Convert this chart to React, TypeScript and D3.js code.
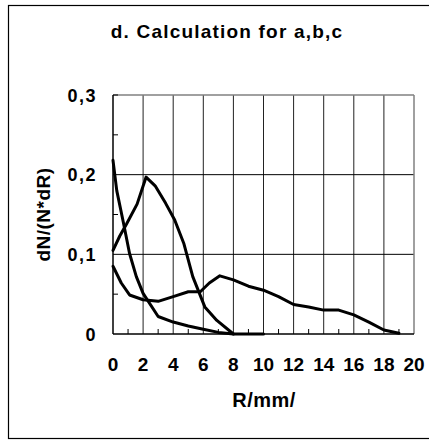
import React from "react";
import * as d3 from "d3";

// Curve a: steep decay
const rA = [0, 0.25, 0.7, 1.1, 1.55, 2, 3, 4, 5, 6, 7, 8, 9, 10];
const vA = [0.218, 0.18, 0.139, 0.101, 0.072, 0.051, 0.022, 0.015, 0.01, 0.006, 0.002, 0, 0, 0];
// Curve b: peak near R=2
const rB = [0, 0.45, 0.9, 1.6, 2.2, 2.8, 3.5, 4.1, 4.7, 5.3, 6.1, 6.9, 8];
const vB = [0.105, 0.123, 0.138, 0.163, 0.197, 0.186, 0.164, 0.143, 0.114, 0.072, 0.034, 0.017, 0];
// Curve c: broad distribution
const rC = [0, 0.55, 1.1, 2, 3, 4, 5, 5.8, 6.4, 7.1, 8, 9, 10, 11, 12, 13, 14, 15, 16, 17, 18, 19];
const vC = [0.085, 0.064, 0.049, 0.043, 0.041, 0.047, 0.053, 0.053, 0.064, 0.073, 0.068, 0.06, 0.055, 0.047, 0.037, 0.034, 0.03, 0.03, 0.024, 0.015, 0.005, 0.001];

const xTicks = [0, 2, 4, 6, 8, 10, 12, 14, 16, 18, 20];
const xMinor = [1, 3, 5, 7, 9, 11, 13, 15, 17, 19];
const yTicks = [0, 0.1, 0.2, 0.3];
const yTickLabels = ["0", "0,1", "0,2", "0,3"];
const yMinor = [0.05, 0.15, 0.25];

const title = "d. Calculation for a,b,c";
const xTitle = "R/mm/";
const yTitle = "dN/(N*dR)";

export default function App() {
  const L = 113, R = 414, T = 95, B = 334;
  const x = d3.scaleLinear().domain([0, 20]).range([L, R]);
  const y = d3.scaleLinear().domain([0, 0.3]).range([B, T]);
  const line = d3
    .line<[number, number]>()
    .x((d) => x(d[0]))
    .y((d) => y(d[1]))
    .curve(d3.curveLinear);
  const series = [
    rA.map((r, i) => [r, vA[i]] as [number, number]),
    rB.map((r, i) => [r, vB[i]] as [number, number]),
    rC.map((r, i) => [r, vC[i]] as [number, number]),
  ];
  const font = "Arial, 'Liberation Sans', sans-serif";
  return (
    <svg
      width={429}
      height={440}
      style={{ position: "absolute", left: 0, top: 0, background: "#fff" }}
      fontFamily={font}
    >
      <rect x={0} y={0} width={429} height={440} fill="#fff" />
      <rect x={8.5} y={5.5} width={460} height={433} fill="none" stroke="#000" strokeWidth={1.2} />
      <text x={227} y={38} textAnchor="middle" fontSize={19} fontWeight="bold" letterSpacing={1.2}>
        {title}
      </text>
      {/* grid */}
      {xTicks.slice(1, -1).map((t) => (
        <line key={"gx" + t} x1={x(t)} x2={x(t)} y1={T} y2={B} stroke="#222" strokeWidth={1} />
      ))}
      {yTicks.slice(1, -1).map((t) => (
        <line key={"gy" + t} x1={L} x2={R} y1={y(t)} y2={y(t)} stroke="#000" strokeWidth={1} />
      ))}
      <line x1={L} x2={R} y1={T} y2={T} stroke="#808080" strokeWidth={1.5} />
      <line x1={R} x2={R} y1={T} y2={B} stroke="#808080" strokeWidth={1.5} />
      {/* minor ticks */}
      {xMinor.map((t) => (
        <line key={"mx" + t} x1={x(t)} x2={x(t)} y1={B} y2={B - 5} stroke="#000" strokeWidth={1} />
      ))}
      {yMinor.map((t) => (
        <line key={"my" + t} x1={L} x2={L + 5} y1={y(t)} y2={y(t)} stroke="#000" strokeWidth={1} />
      ))}
      <line x1={L} x2={L + 5} y1={T} y2={T} stroke="#000" strokeWidth={1} />
      {/* axes */}
      <line x1={L} x2={L} y1={T} y2={B} stroke="#000" strokeWidth={1.5} />
      <line x1={L} x2={R} y1={B} y2={B} stroke="#000" strokeWidth={1.5} />
      {/* curves */}
      {series.map((s, i) => (
        <path
          key={"s" + i}
          d={line(s) || ""}
          fill="none"
          stroke="#000"
          strokeWidth={3}
          strokeLinejoin="round"
          strokeLinecap="round"
        />
      ))}
      {/* tick labels */}
      {yTicks.map((t, i) => (
        <text
          key={"yl" + t}
          x={97}
          y={y(t) + 6.5}
          textAnchor="end"
          fontSize={18}
          fontWeight="bold"
          letterSpacing={1.5}
        >
          {yTickLabels[i]}
        </text>
      ))}
      {xTicks.map((t) => (
        <text key={"xl" + t} x={x(t)} y={371} textAnchor="middle" fontSize={19} fontWeight="bold">
          {String(t)}
        </text>
      ))}
      <text x={264} y={407} textAnchor="middle" fontSize={20} fontWeight="bold" letterSpacing={0.5}>
        {xTitle}
      </text>
      <text
        transform={`translate(50,${(T + B) / 2}) rotate(-90)`}
        textAnchor="middle"
        fontSize={19}
        fontWeight="bold"
        letterSpacing={0.5}
      >
        {yTitle}
      </text>
    </svg>
  );
}
